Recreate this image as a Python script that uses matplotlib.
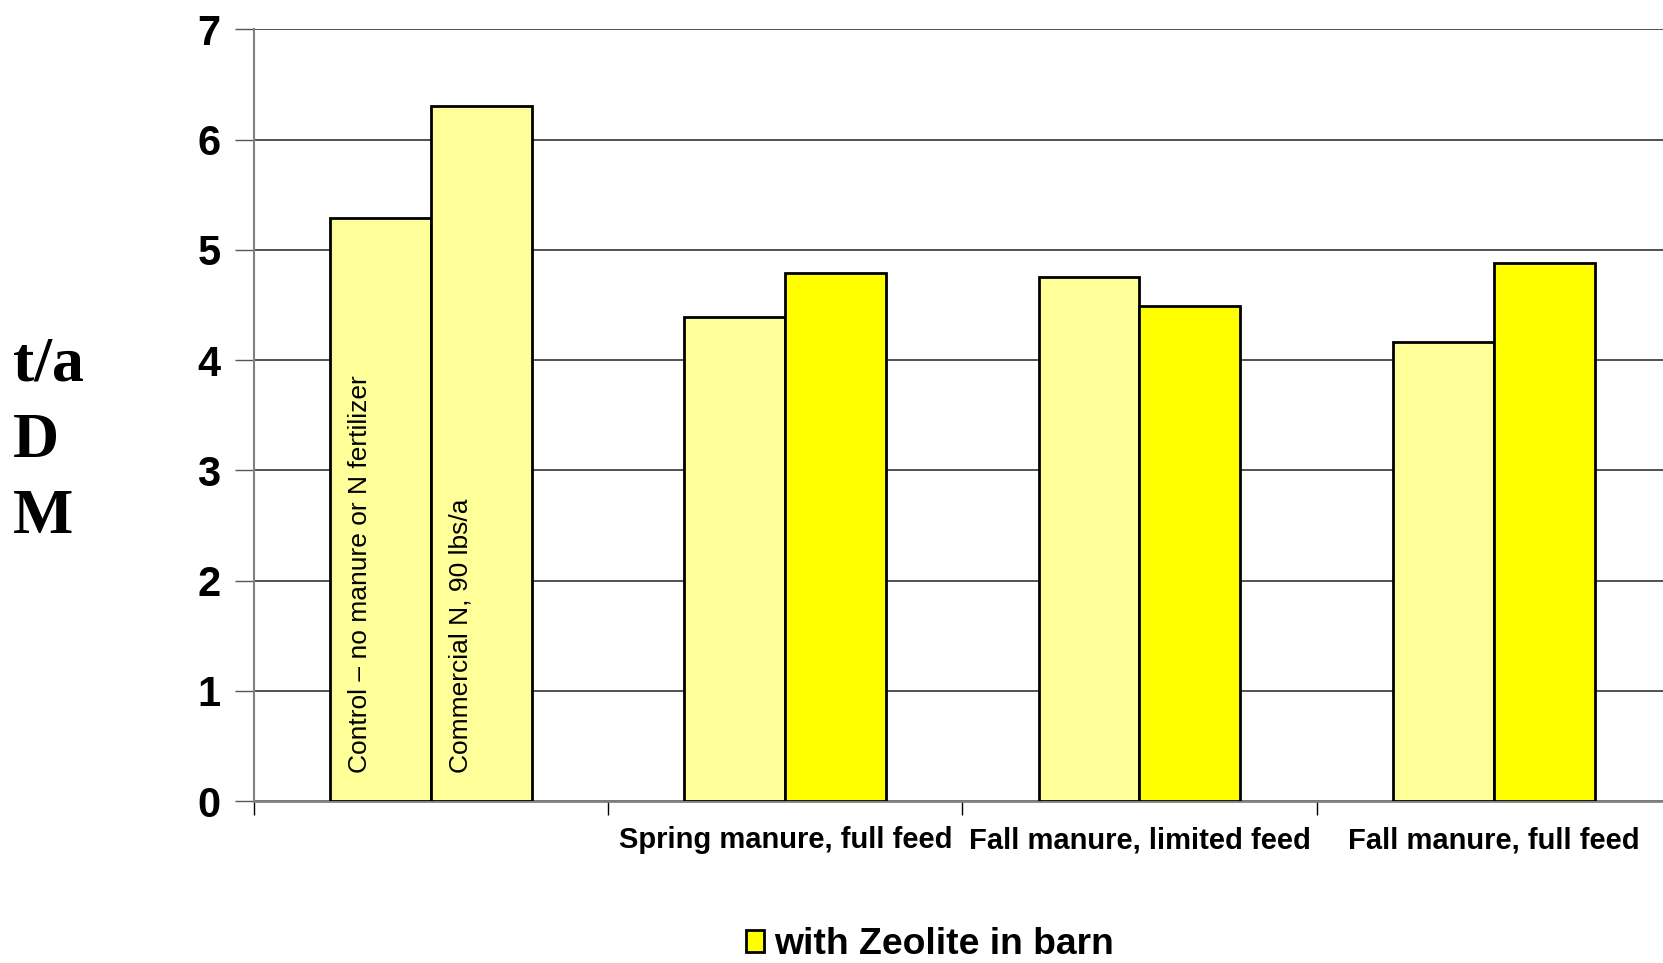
import matplotlib.pyplot as plt
import matplotlib.patches as mpatches
import numpy as np

groups = ["", "Spring manure, full feed", "Fall manure, limited feed", "Fall manure, full feed"]
first_bar = [5.29, 4.39, 4.75, 4.16]
second_bar = [6.30, 4.79, 4.49, 4.88]
inside_labels = ["Control \u2013 no manure or N fertilizer", "Commercial N, 90 lbs/a"]
legend_label = "with Zeolite in barn"

light = "#FFFF99"
zeolite = "#FFFF00"

plt.rcParams["font.family"] = ["Liberation Sans", "DejaVu Sans"]

fig = plt.figure(figsize=(16.63, 9.63), dpi=100)
ax = fig.add_axes([0.1527, 0.1682, 0.852, 0.8014])

x = np.arange(len(groups))
width = 0.285

ax.bar(x - width / 2, first_bar, width, color=light, edgecolor="black", linewidth=2, zorder=3)
second_colors = [light] + [zeolite] * (len(groups) - 1)
ax.bar(x + width / 2, second_bar, width, color=second_colors, edgecolor="black", linewidth=2, zorder=3)

# the first group has no category label, its bars carry their own text
for off, txt in zip([-width / 2, width / 2], inside_labels):
    ax.text(off - 0.058, 0.25, txt, rotation=90, ha="center", va="bottom",
            fontsize=19, zorder=4)

ax.set_xlim(-0.5, len(groups) - 0.5)
ax.set_ylim(0, 7)
ax.set_yticks(range(8))
ax.set_yticklabels([str(v) for v in range(8)], fontsize=30, fontweight="bold")
ax.set_xticks(np.arange(len(groups)) - 0.5)
ax.set_xticklabels([])
ax.set_xticks(x, minor=True)
ax.set_xticklabels(groups, minor=True, fontsize=21, fontweight="bold")
ax.tick_params(axis="x", which="minor", length=0, pad=18)
ax.tick_params(axis="x", which="major", length=10, width=1, color="black", direction="out")
ax.tick_params(axis="y", length=14, width=1, color="#555555", pad=10)

ax.grid(axis="y", color="#222222", linewidth=1.1, zorder=0)
ax.spines["top"].set_visible(False)
ax.spines["right"].set_visible(False)
ax.spines["left"].set_color("#808080")
ax.spines["bottom"].set_color("#808080")
ax.spines["left"].set_linewidth(1.5)
ax.spines["bottom"].set_linewidth(2)

fig.text(0.008, 0.541, "t/a\nD\nM", family=["Liberation Serif"], fontweight="bold",
         fontsize=46, ha="left", va="center", linespacing=1.42)

handle = mpatches.Patch(facecolor=zeolite, edgecolor="black", linewidth=2)
fig.legend([handle], [legend_label], loc="center", bbox_to_anchor=(0.559, 0.019),
           frameon=False, prop={"size": 26.8, "weight": "bold"},
           handlelength=0.5, handleheight=0.5, handletextpad=0.25)

fig.savefig("out.png", dpi=100)
